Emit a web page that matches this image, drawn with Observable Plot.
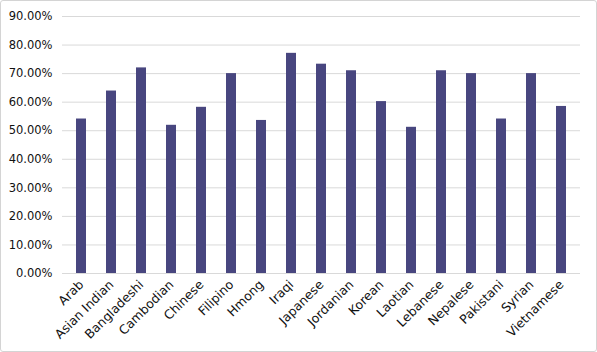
<!DOCTYPE html>
<html>
<head>
<meta charset="utf-8">
<script src="https://cdn.jsdelivr.net/npm/d3@7"></script>
<script src="https://cdn.jsdelivr.net/npm/@observablehq/plot@0.6"></script>
<style>
  html, body { margin: 0; padding: 0; background: #fff; }
  #wrap { position: relative; width: 597px; height: 352px; overflow: hidden; }
  #border { position: absolute; left: 0; top: 0; width: 597px; height: 352px; box-sizing: border-box; border: 1px solid #d4d4d4; border-radius: 3px; pointer-events: none; }
</style>
</head>
<body>
<div id="wrap"><div id="border"></div></div>
<script>
const categories = ["Arab", "Asian Indian", "Bangladeshi", "Cambodian", "Chinese", "Filipino", "Hmong", "Iraqi", "Japanese", "Jordanian", "Korean", "Laotian", "Lebanese", "Nepalese", "Pakistani", "Syrian", "Vietnamese"];
const values = [0.541, 0.639, 0.720, 0.519, 0.582, 0.700, 0.536, 0.771, 0.733, 0.710, 0.602, 0.512, 0.710, 0.700, 0.541, 0.700, 0.585];
const yTicks = [0, 0.1, 0.2, 0.3, 0.4, 0.5, 0.6, 0.7, 0.8, 0.9];

const data = categories.map((c, i) => ({category: c, value: values[i]}));
const fmt = d3.format(".2%");

const chart = Plot.plot({
  width: 597,
  height: 352,
  marginLeft: 62,
  marginRight: 17,
  marginTop: 16,
  marginBottom: 79,
  style: {fontFamily: "'DejaVu Sans', sans-serif", fontSize: "11px", color: "#111", background: "transparent"},
  x: {domain: categories, paddingInner: 0.68, paddingOuter: 0.36, label: null},
  y: {domain: [0, 0.9], label: null},
  marks: [
    Plot.ruleY(yTicks, {stroke: "#d9d9d9", strokeWidth: 1}),
    Plot.barY(data, {x: "category", y: "value", fill: "#48467f"}),
    Plot.axisY({ticks: yTicks, tickFormat: fmt, tickSize: 0, tickPadding: 10, label: null, fontSize: 11.5}),
    Plot.axisX({tickSize: 0, tickRotate: -45, tickPadding: 9, label: null, fontSize: 12.5})
  ]
});
document.getElementById("wrap").prepend(chart);
</script>
</body>
</html>
